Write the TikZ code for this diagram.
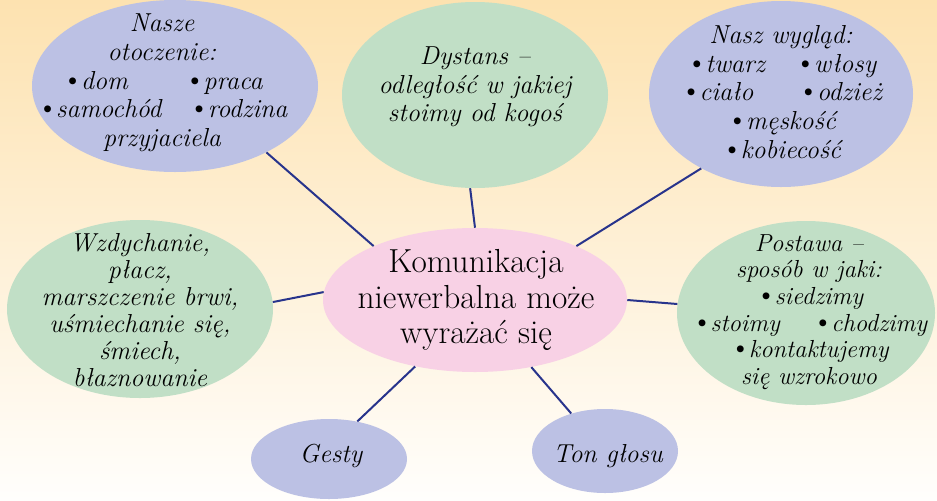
\documentclass[tikz,border=0pt]{standalone}
\usepackage{fontspec}
\usetikzlibrary{shapes.geometric}
\definecolor{lav}{RGB}{188,193,228}
\definecolor{grn}{RGB}{193,223,198}
\definecolor{pnk}{RGB}{248,209,229}
\definecolor{navy}{RGB}{40,52,140}
\definecolor{bgtop}{RGB}{253,226,176}
\definecolor{bgmid}{RGB}{255,246,233}
\definecolor{bgbot}{RGB}{255,254,252}
\newcommand\bl{\smash{\fontsize{23}{23}\selectfont\upshape\textbullet}\kern-1.8pt}
\begin{document}
\begin{tikzpicture}[x=0.75pt,y=-0.75pt,
  blob/.style 2 args={ellipse, draw=none, inner sep=0pt, minimum width=#1, minimum height=#2},
  itxt/.style={align=center, inner sep=0pt, font=\fontsize{19.5}{21.5}\selectfont\itshape},
  ctxt/.style={align=center, inner sep=0pt, font=\fontsize{25}{26.3}\selectfont},
  link/.style={draw=navy, line width=1.5pt}]
\useasboundingbox (0,0) rectangle (937,500);
\shade[top color=bgtop, middle color=bgmid, bottom color=bgbot] (0,0) rectangle (937,500);

% ellipses
\node[blob={214.5pt}{129pt}, fill=lav] (otocz) at (175,86) {};
\node[blob={199.5pt}{139.5pt}, fill=grn] (dyst) at (475,95) {};
\node[blob={198pt}{139.5pt}, fill=lav] (wygl) at (781,94) {};
\node[blob={199.5pt}{133.5pt}, fill=grn] (wzdy) at (140,309) {};
\node[blob={193.5pt}{138pt}, fill=grn] (post) at (806,313) {};
\node[blob={117pt}{60pt}, fill=lav] (gest) at (329,459) {};
\node[blob={109.5pt}{63pt}, fill=lav] (ton) at (605,451) {};
\node[blob={228pt}{108pt}, fill=pnk] (cent) at (475,300) {};

% texts
\node[itxt] (totocz) at (162,83) {Nasze\\otoczenie:\\\bl dom\hspace{42pt}\bl praca\\\bl samochód\hspace{20pt}\bl rodzina\\przyjaciela};
\node[itxt] (tdyst) at (475,87) {Dystans –\\odległość w jakiej\\stoimy od kogoś};
\node[itxt] (twygl) at (781,92) {Nasz wygląd:\\\bl twarz\hspace{22pt}\bl włosy\\\bl ciało\hspace{33pt}\bl odzież\\\bl męskość\\\bl kobiecość};
\node[itxt, font=\fontsize{19.5}{20.2}\selectfont\itshape] (twzdy) at (140,310) {Wzdychanie,\\płacz,\\marszczenie brwi,\\uśmiechanie się,\\śmiech,\\błaznowanie};
\node[itxt, font=\fontsize{18.5}{20}\selectfont\itshape] (tpost) at (809,312) {Postawa –\\sposób w jaki:\\\bl siedzimy\\\bl stoimy\hspace{24pt}\bl chodzimy\\\bl kontaktujemy\\się wzrokowo};
\node[itxt] (tgest) at (331,456) {Gesty};
\node[itxt] (tton) at (608,456) {Ton głosu};
\node[ctxt] (tcent) at (476,300) {Komunikacja\\niewerbalna może\\wyrażać się};

% connectors
\draw[link] (otocz.-36.5) -- (cent.152);
\draw[link] (dyst.-93) -- (cent.90);
\draw[link] (wygl.223) -- (cent.28.5);
\draw[link] (wzdy.3.5) -- (cent.177);
\draw[link] (post.176) -- (cent.0.5);
\draw[link] (gest.53.6) -- (cent.228.6);
\draw[link] (ton.132.6) -- (cent.-50.6);
\end{tikzpicture}
\end{document}
